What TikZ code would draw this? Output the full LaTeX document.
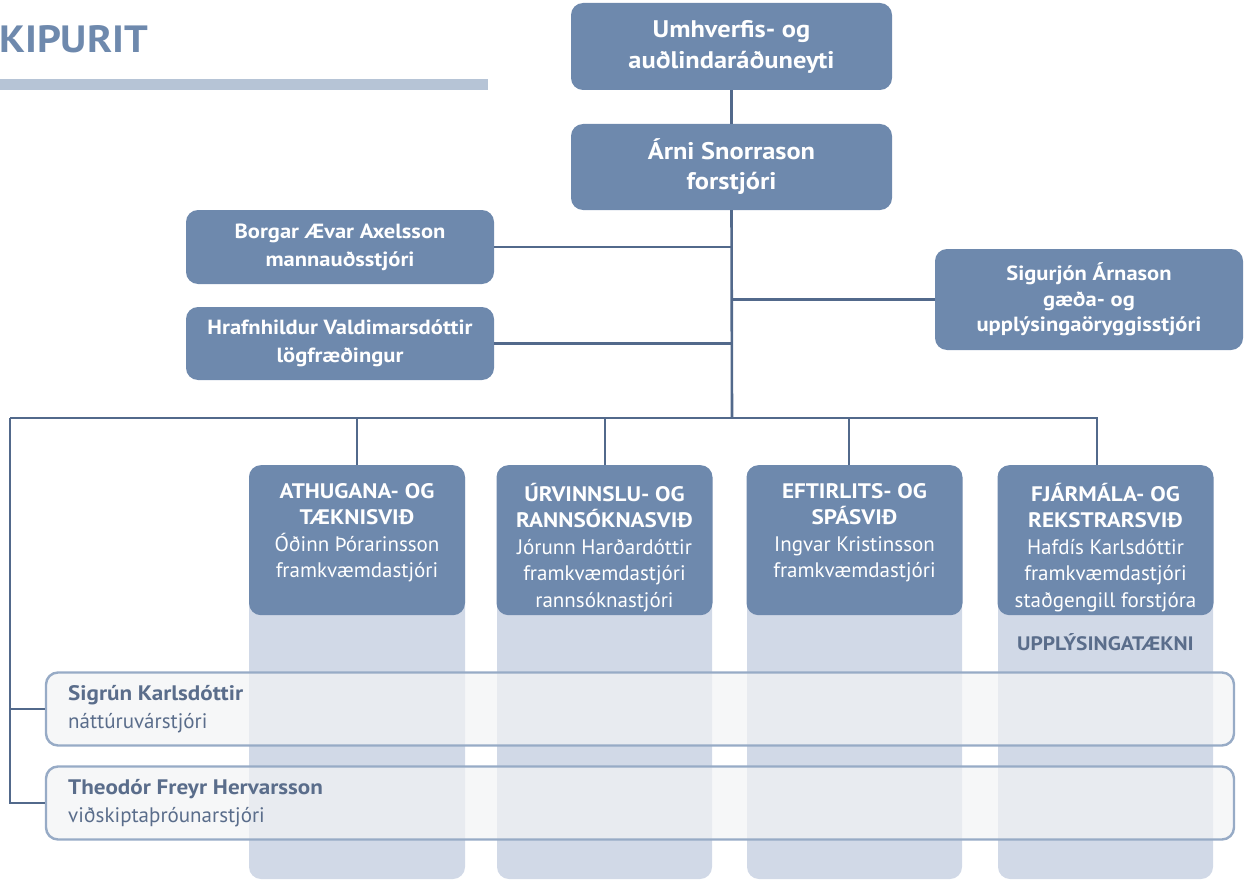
\documentclass[tikz,border=0pt]{standalone}
\usepackage{fontspec}
\setmainfont{PT Sans}[BoldFeatures={FakeStretch=1.1}]
\begin{document}
\begin{tikzpicture}[x=1pt,y=-1pt,
  dark/.style={fill=boxblue, draw=none, rounded corners=12pt, text=white, font=\bfseries},
  conn/.style={draw=lineblue, line width=2.6pt},
  col/.style={fill=colblue, draw=none, rounded corners=12pt},
  pale/.style={fill=palefill, fill opacity=0.7, draw=paleedge, line width=2.4pt, rounded corners=12pt, minimum width=1188pt, minimum height=73pt},
  divbox/.style={dark, minimum width=216pt, minimum height=150pt, anchor=north, inner sep=0pt}
]
\definecolor{boxblue}{HTML}{6E89AD}
\definecolor{lineblue}{HTML}{52698B}
\definecolor{colblue}{HTML}{D1D9E7}
\definecolor{palefill}{HTML}{F2F3F5}
\definecolor{paleedge}{HTML}{97ABC6}
\definecolor{greytext}{HTML}{5A6D8B}
\definecolor{barblue}{HTML}{B6C4D6}
\useasboundingbox (0,0) rectangle (1245,880);

% title
\node[anchor=west, inner sep=0pt, text=boxblue, font=\fontsize{38}{40}\selectfont\bfseries] (title) at (-1,39) {KIPURIT};
\fill[barblue] (0,79) rectangle (488,90);

% coordinates
\coordinate (bus) at (732,418);
\coordinate (busL) at (10,418);
\coordinate (b1) at (357,418);
\coordinate (b2) at (605,418);
\coordinate (b3) at (849,418);
\coordinate (b4) at (1097,418);

% top boxes
\node[dark, minimum width=321pt, minimum height=87pt, align=center, font=\fontsize{24}{31}\selectfont\bfseries] (top) at (731.5,46.5) {Umhverfis- og\\auðlindaráðuneyti};
\node[dark, minimum width=321pt, minimum height=86pt, align=center, font=\fontsize{24}{30}\selectfont\bfseries] (arni) at (731.5,167) {Árni Snorrason\\forstjóri};

\node[dark, minimum width=308pt, minimum height=74pt, align=center, font=\fontsize{20.5}{28}\selectfont\bfseries] (borgar) at (340,247) {Borgar Ævar Axelsson\\mannauðsstjóri};
\node[dark, minimum width=308pt, minimum height=73pt, align=center, font=\fontsize{20.5}{28}\selectfont\bfseries] (hraf) at (340,343.5) {Hrafnhildur Valdimarsdóttir\\lögfræðingur};
\node[dark, minimum width=308pt, minimum height=101pt, align=center, font=\fontsize{20.5}{25.5}\selectfont\bfseries] (sigur) at (1089,299.5) {Sigurjón Árnason\\gæða- og\\upplýsingaöryggisstjóri};

% connectors
\draw[conn] (top.south) -- (arni.north);
\draw[conn] (arni.south) -- (bus);
\draw[conn] (borgar.east) -- (borgar.east -| bus);
\draw[conn] (hraf.east) -- (hraf.east -| bus);
\draw[conn] (sigur.west) -- (sigur.west -| bus);

% divisions: columns
\fill[col] (249,465) rectangle (465,879);
\fill[col] (497,465) rectangle (712,879);
\fill[col] (747,465) rectangle (962,879);
\fill[col] (998,465) rectangle (1213,879);

\node[divbox] (d1) at (357,465) {\begin{minipage}[t][150pt][t]{214pt}\centering\vspace{18pt}\fontsize{21}{26.5}\selectfont ATHUGANA- OG\\TÆKNISVIÐ\\\mdseries Óðinn Þórarinsson\\framkvæmdastjóri\end{minipage}};
\node[divbox] (d2) at (604.5,465) {\begin{minipage}[t][150pt][t]{214pt}\centering\vspace{18pt}\fontsize{21}{26.5}\selectfont ÚRVINNSLU- OG\\RANNSÓKNASVIÐ\\\mdseries Jórunn Harðardóttir\\framkvæmdastjóri\\rannsóknastjóri\end{minipage}};
\node[divbox] (d3) at (854.5,465) {\begin{minipage}[t][150pt][t]{214pt}\centering\vspace{18pt}\fontsize{21}{26.5}\selectfont EFTIRLITS- OG\\SPÁSVIÐ\\\mdseries Ingvar Kristinsson\\framkvæmdastjóri\end{minipage}};
\node[divbox] (d4) at (1105.5,465) {\begin{minipage}[t][150pt][t]{214pt}\centering\vspace{18pt}\fontsize{21}{26.5}\selectfont FJÁRMÁLA- OG\\REKSTRARSVIÐ\\\mdseries Hafdís Karlsdóttir\\framkvæmdastjóri\\staðgengill forstjóra\end{minipage}};

\node[text=greytext, font=\fontsize{19.5}{22}\selectfont\bfseries] (upp) at (1105.5,642) {UPPLÝSINGATÆKNI};

% bus
\draw[conn] (bus) -- (b4) -- (b4 |- d4.north);
\draw[conn] (bus) -- (busL);
\draw[conn] (b1) -- (b1 |- d1.north);
\draw[conn] (b2) -- (b2 |- d2.north);
\draw[conn] (b3) -- (b3 |- d3.north);

% pale boxes
\node[pale] (sig) at (640,709) {};
\node[pale] (theo) at (640,803) {};
\node[anchor=west, text=greytext, align=left, font=\fontsize{21}{27.5}\selectfont, inner sep=0pt] (sigt) at (68,709) {\textbf{Sigrún Karlsdóttir}\\náttúruvárstjóri};
\node[anchor=west, text=greytext, align=left, font=\fontsize{21}{27.5}\selectfont, inner sep=0pt] (theot) at (68,803) {\textbf{Theodór Freyr Hervarsson}\\viðskiptaþróunarstjóri};

\draw[conn] (busL) -- (busL |- theo.west) -- (theo.west);
\draw[conn] (busL |- sig.west) -- (sig.west);
\end{tikzpicture}
\end{document}
